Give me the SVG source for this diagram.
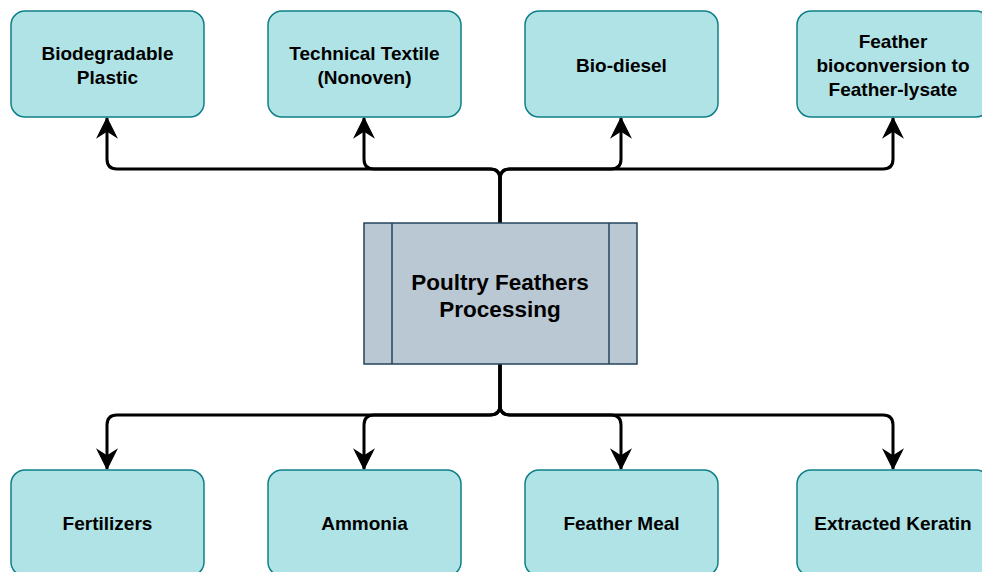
<svg xmlns="http://www.w3.org/2000/svg" width="982" height="572" viewBox="0 0 982 572">
  <defs>
    <style>
      .box { fill: #b0e3e6; stroke: #0e8088; stroke-width: 1.5; }
      .proc { fill: #bac8d3; stroke: #23445d; stroke-width: 1.5; }
      .lbl { font-family: "Liberation Sans", Arial, Helvetica, sans-serif; font-weight: bold; font-size: 19px; fill: #000; text-anchor: middle; dominant-baseline: central; }
      .big { font-size: 22.5px; }
      .edge { fill: none; stroke: #000; stroke-width: 3; stroke-linejoin: round; }
    </style>
    <marker id="arrow" markerUnits="userSpaceOnUse" markerWidth="24" markerHeight="24" viewBox="-21 -12 24 24" refX="0" refY="0" orient="auto">
      <path d="M0,0 L-19,-9.5 L-13,0 L-19,9.5 Z" fill="#000" stroke="#000" stroke-width="1.2" stroke-linejoin="miter"/>
    </marker>
  </defs>

  <!-- connectors -->
  <g id="connectors">
    <path class="edge" marker-end="url(#arrow)" d="M500,223 V179 Q500,169 490,169 H117 Q107,169 107,159 V118"/>
    <path class="edge" marker-end="url(#arrow)" d="M500,223 V179 Q500,169 490,169 H374 Q364,169 364,159 V118"/>
    <path class="edge" marker-end="url(#arrow)" d="M500,223 V179 Q500,169 510,169 H611 Q621,169 621,159 V118"/>
    <path class="edge" marker-end="url(#arrow)" d="M500,223 V179 Q500,169 510,169 H883 Q893,169 893,159 V118"/>
    <path class="edge" marker-end="url(#arrow)" d="M500,364 V405 Q500,415 490,415 H117 Q107,415 107,425 V469"/>
    <path class="edge" marker-end="url(#arrow)" d="M500,364 V405 Q500,415 490,415 H374 Q364,415 364,425 V469"/>
    <path class="edge" marker-end="url(#arrow)" d="M500,364 V405 Q500,415 510,415 H611 Q621,415 621,425 V469"/>
    <path class="edge" marker-end="url(#arrow)" d="M500,364 V405 Q500,415 510,415 H883 Q893,415 893,425 V469"/>
  </g>

  <!-- central process -->
  <g id="processing">
    <rect class="proc" x="364" y="223" width="273" height="141"/>
    <line class="proc" x1="392" y1="223" x2="392" y2="364"/>
    <line class="proc" x1="609" y1="223" x2="609" y2="364"/>
    <text class="lbl big" x="500" y="282">Poultry Feathers</text>
    <text class="lbl big" x="500" y="309">Processing</text>
  </g>

  <!-- top row -->
  <g id="biodegradable-plastic">
    <rect class="box" x="11" y="11" width="193" height="106" rx="14"/>
    <text class="lbl" x="107.5" y="53">Biodegradable</text>
    <text class="lbl" x="107.5" y="77">Plastic</text>
  </g>
  <g id="technical-textile">
    <rect class="box" x="268" y="11" width="193" height="106" rx="14"/>
    <text class="lbl" x="364.5" y="53">Technical Textile</text>
    <text class="lbl" x="364.5" y="77">(Nonoven)</text>
  </g>
  <g id="bio-diesel">
    <rect class="box" x="525" y="11" width="193" height="106" rx="14"/>
    <text class="lbl" x="621.5" y="65">Bio-diesel</text>
  </g>
  <g id="feather-bioconversion">
    <rect class="box" x="797" y="11" width="193" height="106" rx="14"/>
    <text class="lbl" x="893" y="41">Feather</text>
    <text class="lbl" x="893" y="65">bioconversion to</text>
    <text class="lbl" x="893" y="89">Feather-lysate</text>
  </g>

  <!-- bottom row -->
  <g id="fertilizers">
    <rect class="box" x="11" y="470" width="193" height="106" rx="14"/>
    <text class="lbl" x="107.5" y="523">Fertilizers</text>
  </g>
  <g id="ammonia">
    <rect class="box" x="268" y="470" width="193" height="106" rx="14"/>
    <text class="lbl" x="364.5" y="523">Ammonia</text>
  </g>
  <g id="feather-meal">
    <rect class="box" x="525" y="470" width="193" height="106" rx="14"/>
    <text class="lbl" x="621.5" y="523">Feather Meal</text>
  </g>
  <g id="extracted-keratin">
    <rect class="box" x="797" y="470" width="193" height="106" rx="14"/>
    <text class="lbl" x="893" y="523">Extracted Keratin</text>
  </g>
</svg>
